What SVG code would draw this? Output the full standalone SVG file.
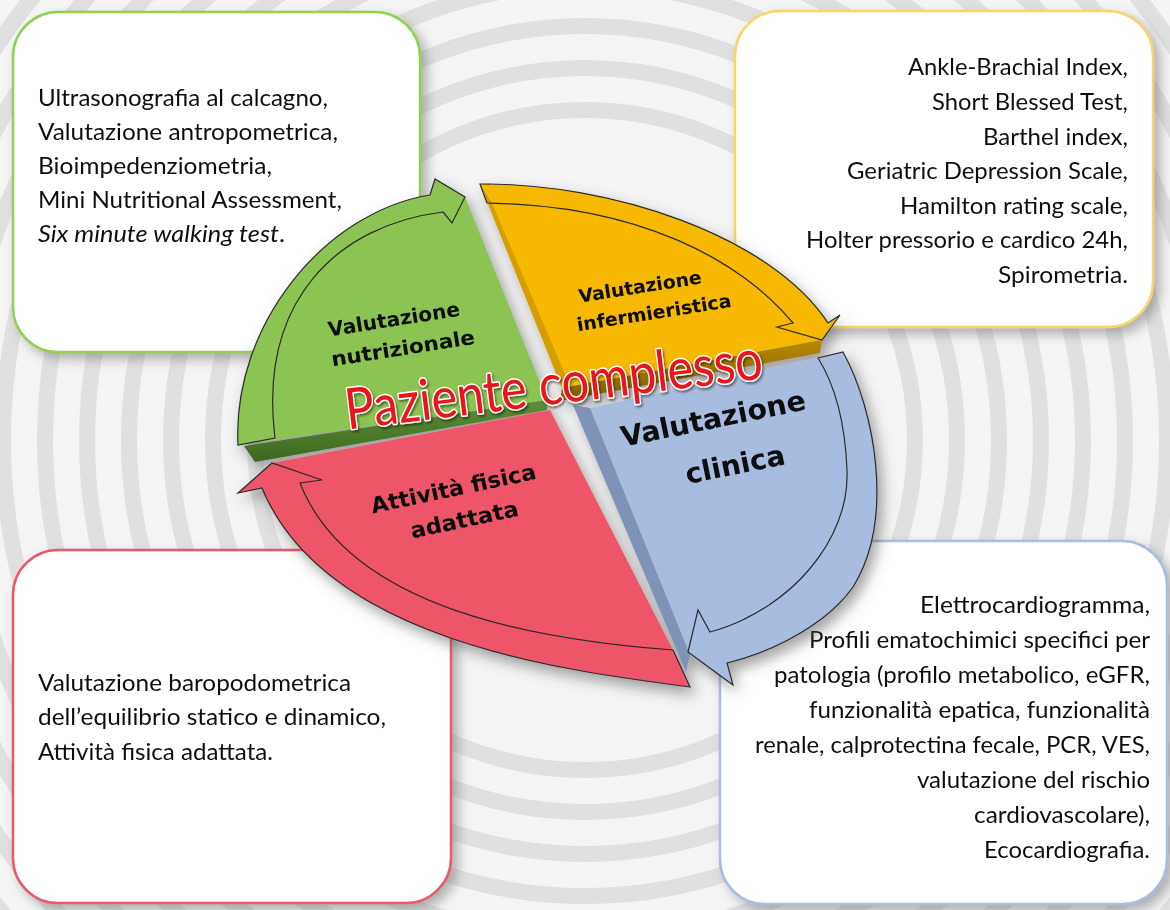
<svg xmlns="http://www.w3.org/2000/svg" width="1170" height="910" viewBox="0 0 1170 910">
<defs>
<style>
.box{fill:#ffffff;stroke-width:2.5}
.bt{font-family:Lato,"Open Sans","Liberation Sans",sans-serif;font-size:24px;fill:#111}
.band{fill:none;stroke:#2b2b2b;stroke-width:1.2;stroke-linejoin:miter}
.lab{font-family:"DejaVu Sans",Verdana,sans-serif;font-weight:bold;fill:#0a0a0a;text-anchor:middle}
.ring{fill:none;stroke:#e0e0e0;stroke-width:16}
</style>
<filter id="sh" x="-10%" y="-10%" width="125%" height="125%">
<feDropShadow dx="6" dy="6" stdDeviation="6" flood-color="#777" flood-opacity="0.55"/>
</filter>
<filter id="sh2" x="-10%" y="-10%" width="125%" height="125%">
<feDropShadow dx="5" dy="7" stdDeviation="7" flood-color="#555" flood-opacity="0.55"/>
</filter>
<filter id="tsh" x="-5%" y="-20%" width="110%" height="140%">
<feDropShadow dx="1.5" dy="2" stdDeviation="1.2" flood-color="#000" flood-opacity="0.45"/>
</filter>
<linearGradient id="gdark" x1="0" y1="0" x2="0" y2="1">
<stop offset="0" stop-color="#5e8f36"/><stop offset="1" stop-color="#3d6820"/>
</linearGradient>
<linearGradient id="ydark" x1="0" y1="0" x2="0" y2="1">
<stop offset="0" stop-color="#b88a00"/><stop offset="1" stop-color="#7d5e00"/>
</linearGradient>
</defs>

<g id="background">
<rect x="0" y="0" width="1170" height="910" fill="#f4f4f4"/>
<g transform="translate(585,440)">
<circle class="ring" r="330"/><circle class="ring" r="372"/><circle class="ring" r="414"/>
<circle class="ring" r="456"/><circle class="ring" r="498"/><circle class="ring" r="540"/>
<circle class="ring" r="582"/><circle class="ring" r="624"/><circle class="ring" r="666"/>
<circle class="ring" r="708"/><circle class="ring" r="750"/><circle class="ring" r="792"/>
</g>
</g>

<g id="box-nutrizionale" filter="url(#sh)">
<rect class="box" x="13" y="12" width="407" height="340" rx="45" stroke="#92d050"/>
<text class="bt" x="38" y="106" textLength="290" lengthAdjust="spacingAndGlyphs">Ultrasonografia al calcagno,</text>
<text class="bt" x="38" y="140" textLength="300" lengthAdjust="spacingAndGlyphs">Valutazione antropometrica,</text>
<text class="bt" x="38" y="174" textLength="234" lengthAdjust="spacingAndGlyphs">Bioimpedenziometria,</text>
<text class="bt" x="38" y="208" textLength="304" lengthAdjust="spacingAndGlyphs">Mini Nutritional Assessment,</text>
<text class="bt" x="38" y="242" textLength="247" lengthAdjust="spacingAndGlyphs"><tspan font-style="italic">Six minute walking test</tspan>.</text>
</g>

<g id="box-infermieristica" filter="url(#sh)">
<rect class="box" x="735" y="11" width="418" height="316" rx="45" stroke="#f7d568" stroke-width="3"/>
<g text-anchor="end">
<text class="bt" x="1128" y="75" textLength="220" lengthAdjust="spacingAndGlyphs">Ankle-Brachial Index,</text>
<text class="bt" x="1128" y="110" textLength="196" lengthAdjust="spacingAndGlyphs">Short Blessed Test,</text>
<text class="bt" x="1128" y="145" textLength="145" lengthAdjust="spacingAndGlyphs">Barthel index,</text>
<text class="bt" x="1128" y="179" textLength="281" lengthAdjust="spacingAndGlyphs">Geriatric Depression Scale,</text>
<text class="bt" x="1128" y="214" textLength="228" lengthAdjust="spacingAndGlyphs">Hamilton rating scale,</text>
<text class="bt" x="1128" y="248" textLength="322" lengthAdjust="spacingAndGlyphs">Holter pressorio e cardico 24h,</text>
<text class="bt" x="1128" y="283" textLength="130" lengthAdjust="spacingAndGlyphs">Spirometria.</text>
</g>
</g>

<g id="box-attivita" filter="url(#sh)">
<rect class="box" x="13" y="550" width="438" height="353" rx="45" stroke="#e85a6a"/>
<text class="bt" x="38" y="691" textLength="313" lengthAdjust="spacingAndGlyphs">Valutazione baropodometrica</text>
<text class="bt" x="38" y="725" textLength="348" lengthAdjust="spacingAndGlyphs">dell’equilibrio statico e dinamico,</text>
<text class="bt" x="38" y="760" textLength="235" lengthAdjust="spacingAndGlyphs">Attività fisica adattata.</text>
</g>

<g id="box-clinica" filter="url(#sh)">
<rect class="box" x="720" y="541" width="447" height="363" rx="45" stroke="#a8bde0"/>
<g text-anchor="end">
<text class="bt" x="1150" y="613" textLength="230" lengthAdjust="spacingAndGlyphs">Elettrocardiogramma,</text>
<text class="bt" x="1150" y="648" textLength="341" lengthAdjust="spacingAndGlyphs">Profili ematochimici specifici per</text>
<text class="bt" x="1150" y="683" textLength="376" lengthAdjust="spacingAndGlyphs">patologia (profilo metabolico, eGFR,</text>
<text class="bt" x="1150" y="718" textLength="341" lengthAdjust="spacingAndGlyphs">funzionalità epatica, funzionalità</text>
<text class="bt" x="1150" y="753" textLength="395" lengthAdjust="spacingAndGlyphs">renale, calprotectina fecale, PCR, VES,</text>
<text class="bt" x="1150" y="788" textLength="233" lengthAdjust="spacingAndGlyphs">valutazione del rischio</text>
<text class="bt" x="1150" y="823" textLength="176" lengthAdjust="spacingAndGlyphs">cardiovascolare),</text>
<text class="bt" x="1150" y="858" textLength="166" lengthAdjust="spacingAndGlyphs">Ecocardiografia.</text>
</g>
</g>

<g id="cycle" filter="url(#sh2)">
<g id="seg-nutrizionale">
<path d="M238,445 C232,325 325,212 430,195 L435,179 L465,197 L547,400 Z" fill="#8cc453"/>
<path d="M244,446 L547,400 L547,410 L255,462 Z" fill="url(#gdark)"/>
<path class="band" d="M238,445 C232,325 325,212 430,195 L435,179 L465,197 L452,223 L443,212 C338,225 258,300 275,438 Z"/>
<text class="lab" font-size="20" x="395" y="326" textLength="133" lengthAdjust="spacingAndGlyphs" transform="rotate(-9 395 326)">Valutazione</text>
<text class="lab" font-size="20" x="404" y="355" textLength="145" lengthAdjust="spacingAndGlyphs" transform="rotate(-9 404 355)">nutrizionale</text>
</g>
<g id="seg-infermieristica">
<path d="M480,184 C610,183 770,235 828,323 L840,315 L822,340 L562,388 Z" fill="#f6b800"/>
<path d="M480,184 L492,203 L570,386 L562,388 Z" fill="#d59e00"/>
<path d="M822,340 L820,353 L560,401 L562,388 Z" fill="url(#ydark)"/>
<path class="band" d="M480,184 C610,183 770,235 828,323 L840,315 L822,340 L777,327 L793,323 C740,260 640,205 487,203 Z"/>
<text class="lab" font-size="18.5" x="641" y="293" textLength="124" lengthAdjust="spacingAndGlyphs" transform="rotate(-9 641 293)">Valutazione</text>
<text class="lab" font-size="18.5" x="655" y="319" textLength="156" lengthAdjust="spacingAndGlyphs" transform="rotate(-9 655 319)">infermieristica</text>
</g>
<g id="seg-clinica">
<path d="M590,408 L843,352 C875,410 895,520 853,587 C830,620 780,650 727,663 L733,685 L690,655 Z" fill="#a8bcdf"/>
<path d="M573,405 L590,408 L690,655 L686,672 Z" fill="#7f93b8"/>
<path class="band" d="M818,358 L843,352 C875,410 895,520 853,587 C830,620 780,650 727,663 L733,685 L688,652 L698,610 L710,632 C790,610 850,540 847,470 C845,420 835,385 818,358 Z"/>
<text class="lab" font-size="28" x="715" y="428" textLength="188" lengthAdjust="spacingAndGlyphs" transform="rotate(-11.5 715 428)">Valutazione</text>
<text class="lab" font-size="28" x="737" y="474" textLength="101" lengthAdjust="spacingAndGlyphs" transform="rotate(-11.5 737 474)">clinica</text>
</g>
<g id="seg-attivita">
<path d="M272,463 L550,410 L673,650 L690,687 C560,670 325,640 262,488 L238,493 Z" fill="#ef5568"/>
<path class="band" d="M673,650 L690,687 C560,670 325,640 262,488 L238,493 L272,463 L322,480 L300,483 C350,610 540,640 673,650 Z"/>
<text class="lab" font-size="22" x="455" y="496" textLength="168" lengthAdjust="spacingAndGlyphs" transform="rotate(-12 455 496)">Attività fisica</text>
<text class="lab" font-size="22" x="466" y="527" textLength="110" lengthAdjust="spacingAndGlyphs" transform="rotate(-12 466 527)">adattata</text>
</g>
</g>

<g id="title" filter="url(#tsh)">
<text x="556" y="404" text-anchor="middle" font-family="Lato,'Open Sans','Liberation Sans',sans-serif" font-size="57" fill="#e8141c" stroke="#ffffff" stroke-width="3" paint-order="stroke" stroke-linejoin="round" textLength="420" lengthAdjust="spacingAndGlyphs" transform="rotate(-7 556 404)">Paziente complesso</text>
</g>
</svg>
